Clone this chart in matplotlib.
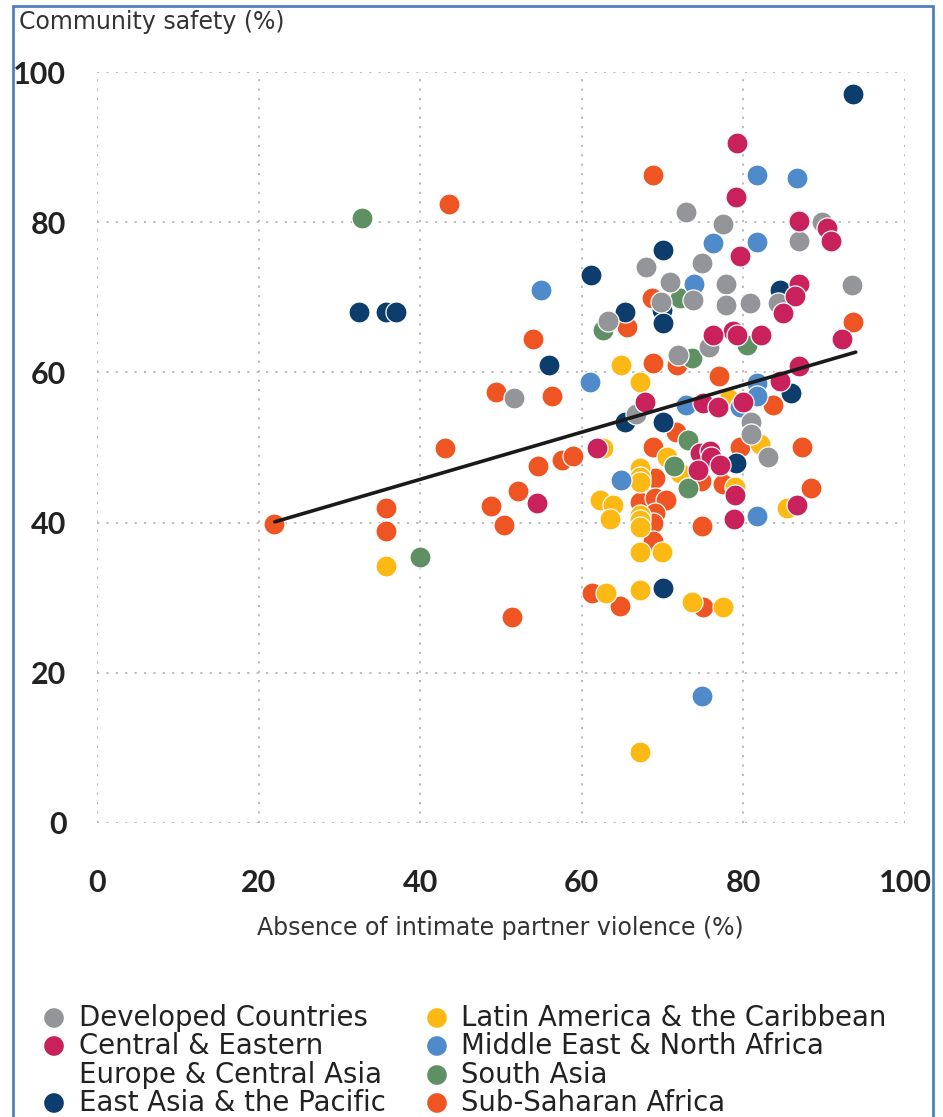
import matplotlib
matplotlib.use("Agg")
import matplotlib.pyplot as plt
from matplotlib.patches import Rectangle

# ---------------- data ----------------
developed_x = [51.6, 63.2, 67.9, 72.9, 77.5, 69.8, 70.9, 74.9, 73.8, 77.8, 77.9, 80.8, 84.3,
               86.8, 89.7, 86.9, 93.4, 71.9, 66.7, 80.9, 80.9, 83.0, 75.8]
developed_y = [56.6, 66.9, 74.0, 81.4, 79.8, 69.4, 72.0, 74.6, 69.6, 71.8, 69.0, 69.2, 69.2,
               80.3, 80.0, 77.5, 71.6, 62.3, 54.4, 53.4, 51.8, 48.7, 63.4]

cee_x = [79.2, 79.1, 79.6, 86.9, 90.3, 90.9, 86.9, 86.4, 84.9, 92.2, 86.9, 84.5, 78.7, 79.2,
         76.2, 82.2, 67.8, 61.9, 54.5, 75.0, 76.9, 80.0, 74.6, 75.9, 76.0, 74.4, 77.1, 79.0,
         78.8, 86.6]
cee_y = [90.5, 83.3, 75.5, 80.1, 79.2, 77.5, 71.8, 70.2, 67.9, 64.4, 60.8, 58.9, 65.5, 65.0,
         65.0, 65.0, 56.0, 50.0, 42.6, 55.9, 55.4, 56.0, 49.3, 49.6, 48.7, 47.0, 47.7, 43.7,
         40.5, 42.3]

eap_x = [32.4, 35.8, 37.0, 55.9, 61.2, 65.4, 70.1, 69.9, 70.0, 84.5, 85.9, 65.4, 70.0, 79.1,
         70.0, 93.6]
eap_y = [68.0, 68.0, 68.0, 61.0, 73.0, 68.0, 76.3, 68.3, 66.6, 71.0, 57.3, 53.4, 53.4, 47.9,
         31.3, 97.1]

lac_x = [35.8, 64.8, 67.2, 62.6, 62.3, 63.9, 63.5, 67.2, 67.2, 67.2, 67.2, 67.2, 67.2, 67.2,
         69.9, 70.5, 72.2, 79.0, 82.1, 85.4, 63.0, 67.2, 73.6, 77.5, 67.2, 78.2]
lac_y = [34.2, 61.0, 58.7, 50.0, 43.0, 42.3, 40.5, 47.3, 46.1, 45.4, 41.0, 40.3, 39.4, 36.1,
         36.1, 48.7, 46.6, 44.7, 50.5, 41.9, 30.6, 31.0, 29.4, 28.8, 9.5, 56.4]

mena_x = [55.0, 61.0, 81.7, 86.6, 76.2, 81.7, 73.9, 72.9, 79.6, 81.7, 81.7, 64.9, 81.7, 74.9]
mena_y = [71.0, 58.7, 86.3, 85.9, 77.2, 77.4, 71.8, 55.6, 55.4, 58.6, 56.9, 45.7, 40.9, 16.9]

sa_x = [32.8, 40.0, 62.6, 72.2, 73.6, 73.1, 73.1, 80.4, 71.4]
sa_y = [80.6, 35.4, 65.6, 69.9, 61.9, 51.0, 44.6, 63.6, 47.6]

ssa_x = [21.9, 35.8, 35.8, 43.6, 43.1, 49.4, 54.0, 56.3, 48.8, 52.1, 50.4, 51.4, 54.6, 57.6,
         58.9, 65.6, 68.7, 68.8, 71.8, 68.8, 77.0, 83.7, 93.6, 87.3, 88.4, 74.9, 79.6, 77.5,
         68.8, 71.6, 69.1, 67.2, 69.1, 70.4, 69.1, 68.8, 68.8, 74.8, 61.3, 64.7, 75.0]
ssa_y = [39.8, 41.9, 38.9, 82.4, 50.0, 57.4, 64.4, 56.9, 42.2, 44.2, 39.7, 27.4, 47.5, 48.4,
         48.9, 66.1, 69.9, 61.3, 61.0, 86.3, 59.5, 55.7, 66.7, 50.1, 44.6, 39.6, 50.1, 45.2,
         50.1, 52.0, 45.9, 42.7, 43.3, 43.0, 41.3, 40.0, 37.6, 45.6, 30.6, 28.9, 28.8]

trend_x = [22.0, 93.9]
trend_y = [40.1, 62.7]

x_ticks = [0, 20, 40, 60, 80, 100]
y_ticks = [0, 20, 40, 60, 80, 100]

legend_left = ["Developed Countries", "Central & Eastern\nEurope & Central Asia",
               "East Asia & the Pacific"]
legend_right = ["Latin America & the Caribbean", "Middle East & North Africa",
                "South Asia", "Sub-Saharan Africa"]

C_DEV = "#939598"
C_CEE = "#c8215c"
C_EAP = "#0d3d6c"
C_LAC = "#fdb913"
C_MENA = "#4f8bcb"
C_SA = "#5e9064"
C_SSA = "#ef5423"

TEXT_FONT = "DejaVu Sans"
TICK_FONT = "Lato"
W, H = 943, 1117

fig = plt.figure(figsize=(W / 100, H / 100), dpi=100)
ax = fig.add_axes([97 / W, 1 - 823 / H, (905 - 97) / W, (823 - 72) / H])
ax.set_xlim(0, 100)
ax.set_ylim(0, 100)
for s in ax.spines.values():
    s.set_visible(False)
ax.set_xticks(x_ticks)
ax.set_yticks(y_ticks)
ax.set_xticklabels([str(t) for t in x_ticks], fontsize=22, fontweight="bold",
                   family=TICK_FONT, color="#222222")
ax.set_yticklabels([str(t) for t in y_ticks], fontsize=22, fontweight="bold",
                   family=TICK_FONT, color="#222222")
ax.tick_params(axis="x", length=0, pad=33)
ax.tick_params(axis="y", length=0, pad=22)
ax.grid(True, color="#b5b5b5", linestyle=(0, (1.2, 4)), linewidth=1.3)
ax.set_axisbelow(True)

ms = 230
series = [
    (ssa_x, ssa_y, C_SSA),
    (lac_x, lac_y, C_LAC),
    (sa_x, sa_y, C_SA),
    (eap_x, eap_y, C_EAP),
    (mena_x, mena_y, C_MENA),
    (developed_x, developed_y, C_DEV),
    (cee_x, cee_y, C_CEE),
]
for xs, ys, c in series:
    ax.scatter(xs, ys, s=ms, color=c, edgecolor="white", linewidth=0.9, zorder=3,
               clip_on=False)

ax.plot(trend_x, trend_y, color="#1a1a1a", linewidth=2.6, zorder=5, solid_capstyle="round")

fig.text(19 / W, 1 - 22 / H, "Community safety (%)", fontsize=17, family=TEXT_FONT,
         color="#333333", va="center", ha="left")
fig.text(500 / W, 1 - 928 / H, "Absence of intimate partner violence (%)", fontsize=17,
         family=TEXT_FONT, color="#333333", va="center", ha="center")

# legend (manual, pixel coordinates)
lax = fig.add_axes([0, 0, 1, 1], facecolor="none")
lax.set_xlim(0, W)
lax.set_ylim(H, 0)
lax.axis("off")
rows = [1018, 1046, 1075, 1103]
left_rows = [rows[0], rows[1], rows[3]]
left_cols = [C_DEV, C_CEE, C_EAP]
right_cols = [C_LAC, C_MENA, C_SA, C_SSA]
for lab, yv, c in zip(legend_left, left_rows, left_cols):
    lax.scatter([54], [yv], s=200, color=c, edgecolor="none")
    lines = lab.split("\n")
    for i, ln in enumerate(lines):
        lax.text(79, yv + i * 29, ln, fontsize=19.8, family=TEXT_FONT, color="#222222",
                 va="center", ha="left")
for lab, yv, c in zip(legend_right, rows, right_cols):
    lax.scatter([437], [yv], s=200, color=c, edgecolor="none")
    lax.text(461, yv, lab, fontsize=19.8, family=TEXT_FONT, color="#222222",
             va="center", ha="left")

# border
fig.patches.append(Rectangle((13 / W, -0.01), (933 - 13) / W, 1 - 6 / H + 0.01,
                             transform=fig.transFigure, fill=False,
                             edgecolor="#4f81bd", linewidth=2))

fig.savefig("out.png", dpi=100)
